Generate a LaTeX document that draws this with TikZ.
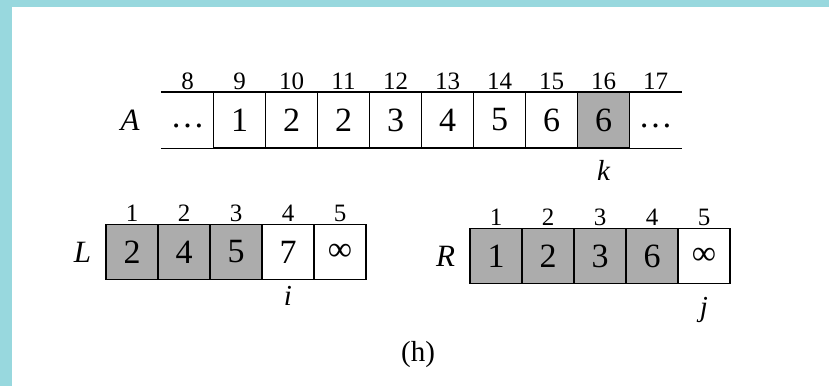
\documentclass[tikz,border=0pt]{standalone}
\usepackage{fontspec}
\setmainfont{Liberation Serif}
\usepackage{tikz}
\usetikzlibrary{positioning}
\definecolor{scanblue}{RGB}{152,216,222}
\definecolor{cellgray}{RGB}{172,172,172}

\begin{document}
\begin{tikzpicture}[
    x=1pt, y=-1pt,
    cell/.style={rectangle, draw, line width=1.4pt, minimum width=52pt, minimum height=55pt, inner sep=0pt, font=\fontsize{34}{34}\selectfont},
    opencell/.style={cell, draw=none},
    done/.style={cell, fill=cellgray},
    index/.style={anchor=south, inner sep=2pt, font=\fontsize{25}{25}\selectfont},
    arrname/.style={inner sep=0pt, font=\fontsize{31}{31}\selectfont\itshape},
    pointer/.style={inner sep=0pt, font=\fontsize{29}{29}\selectfont\itshape}
]
% Page and scanned border
\fill[scanblue] (0,0) rectangle (829,386);
\fill[white] (12,7) rectangle (829,386);
\useasboundingbox (0,0) rectangle (829,386);

% Array A
\foreach \i/\v/\s in {8/{\vphantom{1}\raisebox{4pt}{\dots}}/opencell, 9/1/cell, 10/2/cell, 11/2/cell, 12/3/cell, 13/4/cell, 14/5/cell, 15/6/cell, 16/6/done, 17/{\vphantom{1}\raisebox{4pt}{\dots}}/opencell} {
    \node[\s] (a\i) at ({187.5+(\i-8)*52},120) {\v};
    \node[index] (ia\i) at (a\i.north) {\i};
}
\draw[line width=1.4pt] (a8.north west) -- (a17.north east);
\draw[line width=1.4pt] (a8.south west) -- (a17.south east);
\node[arrname, left=21pt of a8] (nameA) {A};
\node[pointer, below=12pt of a16] (k) {k};

% Array L
\foreach \i/\v/\s in {1/2/done, 2/4/done, 3/5/done, 4/7/cell, 5/∞/cell} {
    \node[\s] (l\i) at ({132+(\i-1)*52},252) {\v};
    \node[index] (il\i) at (l\i.north) {\i};
}
\node[arrname, left=14pt of l1] (nameL) {L};
\node[pointer, below=6pt of l4] (i) {i};

% Array R
\foreach \i/\v/\s in {1/1/done, 2/2/done, 3/3/done, 4/6/done, 5/∞/cell} {
    \node[\s] (r\i) at ({496+(\i-1)*52},256) {\v};
    \node[index] (ir\i) at (r\i.north) {\i};
}
\node[arrname, left=14pt of r1] (nameR) {R};
\node[pointer, below=13pt of r5] (j) {j};

% Caption
\node[font=\fontsize{29}{29}\selectfont] (caption) at (418,355) {(h)};
\end{tikzpicture}
\end{document}
